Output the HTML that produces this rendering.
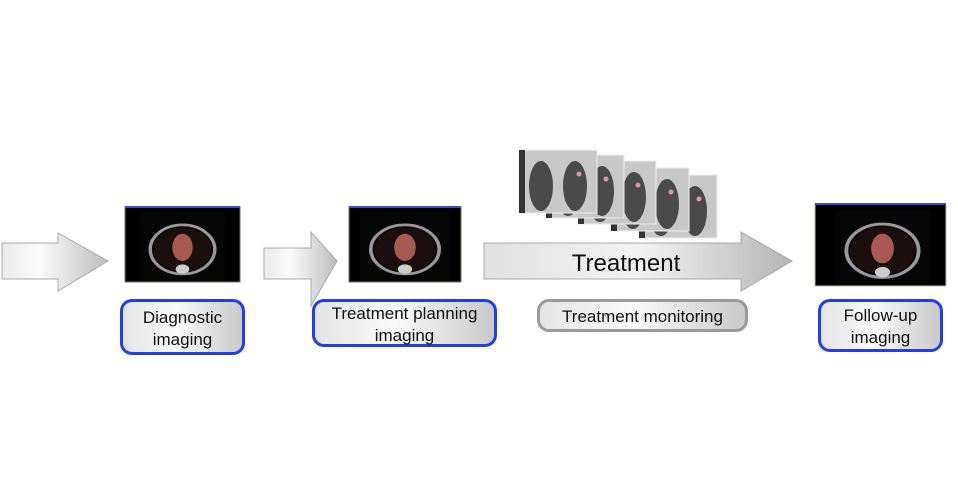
<!DOCTYPE html>
<html><head><meta charset="utf-8"><style>
body{margin:0;width:958px;height:497px;background:#fff;overflow:hidden;position:relative;font-family:"Liberation Sans",Arial,sans-serif}
.box{position:absolute;box-sizing:border-box;border-radius:12px;background:linear-gradient(90deg,#e4e4e4,#fafafa 45%,#c9c9c9);display:flex;align-items:center;justify-content:center;text-align:center;font-size:17px;line-height:22px;color:#111;padding-top:3px}
.blue{border:3px solid #1f3ef0}
.gray{border:3px solid #9a9a9a}
</style></head><body>
<svg width="958" height="497" style="position:absolute;left:0;top:0">
<defs>
<linearGradient id="ag" x1="0" y1="0" x2="1" y2="0"><stop offset="0" stop-color="#eaeaea"/><stop offset="0.35" stop-color="#fbfbfb"/><stop offset="1" stop-color="#bdbdbd"/></linearGradient>
<linearGradient id="bg" x1="0" y1="0" x2="1" y2="0"><stop offset="0" stop-color="#e0e0e0"/><stop offset="0.5" stop-color="#f3f3f3"/><stop offset="1" stop-color="#b5b5b5"/></linearGradient>
<g id="ct">
<rect x="0" y="0" width="100" height="100" fill="#050505"/>
<ellipse cx="50" cy="55" rx="38" ry="36" fill="none" stroke="#999" stroke-width="4"/>
<ellipse cx="50" cy="55" rx="34" ry="32" fill="#1a0f0e"/>
<ellipse cx="50" cy="52" rx="12" ry="20" fill="#a85a52"/>
<ellipse cx="50" cy="84" rx="8" ry="7" fill="#ccc"/>
</g>
<g id="fr">
<rect x="0" y="0" width="78" height="63" fill="#c8c8c8" stroke="#eee"/>
<ellipse cx="22" cy="36" rx="12" ry="25" fill="#4a4a4a"/>
<ellipse cx="56" cy="36" rx="12" ry="25" fill="#4a4a4a"/>
<rect x="0" y="0" width="6" height="63" fill="#333"/>
<circle cx="60" cy="24" r="2.5" fill="#d99"/>
</g>
</defs>
<polygon points="2,243 58,243 58,233 108,261 58,291 58,279 2,279" fill="url(#ag)" stroke="#aaa"/>
<polygon points="264,248 311,248 311,232 337,261 311,306 311,279 264,279" fill="url(#ag)" stroke="#aaa"/>
<polygon points="484,243 741,243 741,232 792,261 741,291 741,279 484,279" fill="url(#bg)" stroke="#aaa"/>
<text x="626" y="271" font-size="24" text-anchor="middle" fill="#111" font-family="Liberation Sans,sans-serif">Treatment</text>
<rect x="125" y="207" width="115" height="75" fill="#000" stroke="#776"/>
<rect x="125" y="206" width="115" height="2" fill="#3a4bd0"/>
<use href="#ct" transform="translate(140,212) scale(0.85,0.68)"/>
<rect x="349" y="207" width="112" height="75" fill="#000" stroke="#776"/>
<rect x="349" y="206" width="112" height="2" fill="#3a4bd0"/>
<use href="#ct" transform="translate(360,212) scale(0.9,0.68)"/>
<rect x="815" y="204" width="131" height="82" fill="#000" stroke="#bba"/>
<rect x="815" y="203" width="131" height="2" fill="#3a4bd0"/>
<use href="#ct" transform="translate(835,210) scale(0.95,0.74)"/>
<use href="#fr" transform="translate(639,175)"/>
<use href="#fr" transform="translate(611,168)"/>
<use href="#fr" transform="translate(578,161)"/>
<use href="#fr" transform="translate(546,155)"/>
<use href="#fr" transform="translate(519,150)"/>
</svg>
<div class="box blue" style="left:120px;top:299px;width:125px;height:56px">Diagnostic<br>imaging</div>
<div class="box blue" style="left:312px;top:299px;width:185px;height:48px">Treatment planning<br>imaging</div>
<div class="box gray" style="left:537px;top:299px;width:211px;height:33px">Treatment monitoring</div>
<div class="box blue" style="left:818px;top:299px;width:125px;height:53px">Follow-up<br>imaging</div>
</body></html>
